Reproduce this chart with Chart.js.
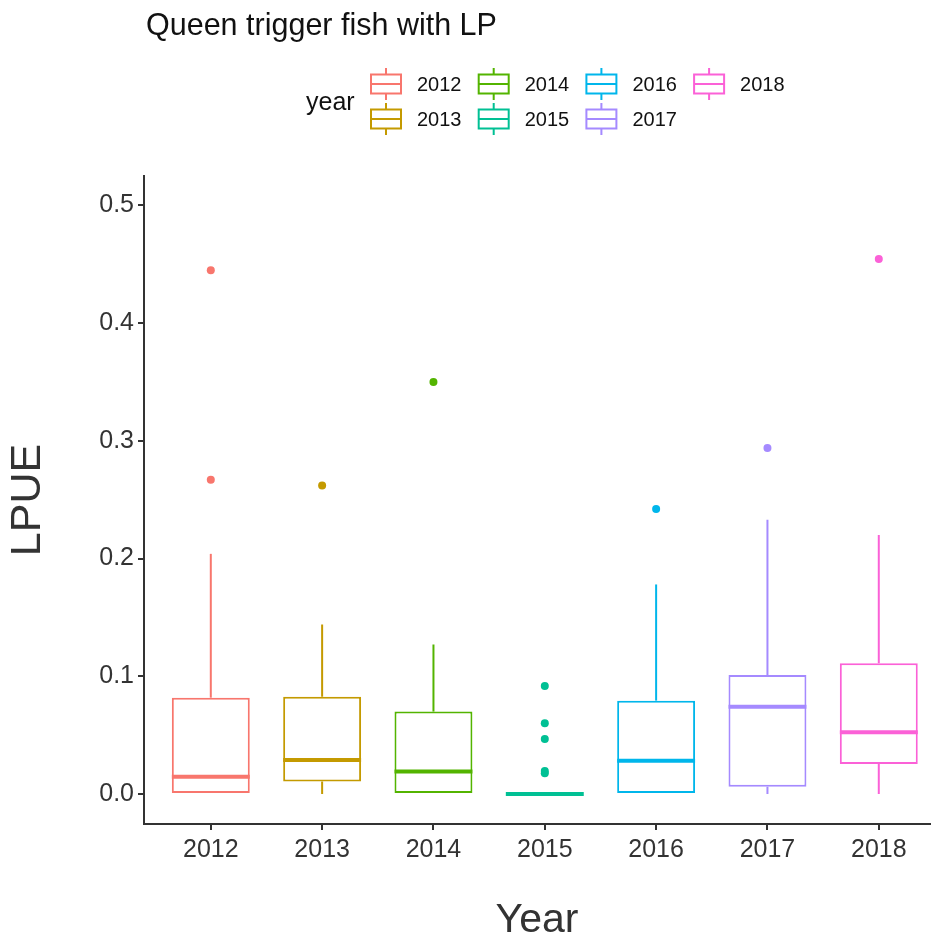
<!DOCTYPE html>
<html>
<head>
    <title>Queen trigger fish with LP</title>
    <style>
        body {
            margin: 0;
            padding: 0;
            background-color: #fff;
            overflow: hidden;
        }
    </style>
</head>
<body>
<canvas id="boxChart" width="934" height="941"></canvas>

<script src="https://cdn.jsdelivr.net/npm/chart.js@4.4.1/dist/chart.umd.min.js"></script>
<script>
    // valores
    const years = ['2012', '2013', '2014', '2015', '2016', '2017', '2018'];
    const colors = ['#F8766D', '#C49A00', '#53B400', '#00C094', '#00B6EB', '#A58AFF', '#FB61D7'];
    const whiskerLow = [0, 0, 0, 0, 0, 0, 0];
    const q1 = [0, 0.0105, 0, 0, 0, 0.0062, 0.0255];
    const medians = [0.0147, 0.0289, 0.019, 0, 0.0283, 0.0742, 0.0524];
    const q3 = [0.0818, 0.0827, 0.070, 0, 0.0793, 0.101, 0.111];
    const whiskerHigh = [0.204, 0.144, 0.127, 0, 0.178, 0.233, 0.220];
    const outliers = [
        [0.445, 0.267],
        [0.262],
        [0.350],
        [0.0918, 0.060, 0.0467, 0.0195, 0.0176],
        [0.242],
        [0.294],
        [0.4545]
    ];
    const yTicks = [0, 0.1, 0.2, 0.3, 0.4, 0.5];

    const FONT = "'Liberation Sans', Arial, sans-serif";
    Chart.defaults.font.family = FONT;

    const boxData = years.map((y, i) => ({x: i, y: [q1[i], q3[i]]}));
    const outlierData = [];
    outliers.forEach((vals, i) => {
        vals.forEach(v => outlierData.push({x: i, y: v}));
    });

    // bigotes y medianas
    const boxLines = {
        id: 'boxLines',
        beforeDatasetsDraw(chart) {
            const ctx = chart.ctx;
            const xs = chart.scales.x;
            const ys = chart.scales.y;
            ctx.save();
            ctx.lineWidth = 2;
            years.forEach((y, i) => {
                const px = xs.getPixelForValue(i);
                ctx.strokeStyle = colors[i];
                ctx.beginPath();
                ctx.moveTo(px, ys.getPixelForValue(q3[i]));
                ctx.lineTo(px, ys.getPixelForValue(whiskerHigh[i]));
                ctx.moveTo(px, ys.getPixelForValue(q1[i]));
                ctx.lineTo(px, ys.getPixelForValue(whiskerLow[i]));
                ctx.stroke();
            });
            ctx.restore();
        },
        afterDatasetsDraw(chart) {
            const ctx = chart.ctx;
            const xs = chart.scales.x;
            const ys = chart.scales.y;
            const bars = chart.getDatasetMeta(0).data;
            ctx.save();
            ctx.lineWidth = 4;
            years.forEach((y, i) => {
                const px = xs.getPixelForValue(i);
                const half = bars[i].width / 2;
                const py = ys.getPixelForValue(medians[i]);
                ctx.strokeStyle = colors[i];
                ctx.beginPath();
                ctx.moveTo(px - half, py);
                ctx.lineTo(px + half, py);
                ctx.stroke();
            });
            ctx.restore();
        }
    };

    // titulo y leyenda estilo ggplot
    const titleAndLegend = {
        id: 'titleAndLegend',
        afterDraw(chart) {
            const ctx = chart.ctx;
            ctx.save();
            ctx.fillStyle = '#111';
            ctx.font = '30.5px ' + FONT;
            ctx.textBaseline = 'alphabetic';
            ctx.fillText('Queen trigger fish with LP', 146, 35);

            ctx.fillStyle = '#111';
            ctx.font = '25px ' + FONT;
            ctx.fillText('year', 306, 110);

            ctx.font = '20px ' + FONT;
            ctx.textBaseline = 'middle';
            years.forEach((y, i) => {
                const col = Math.floor(i / 2);
                const row = i % 2;
                const left = 371 + col * 107.7;
                const cy = 84 + row * 35;
                const cx = left + 15;
                ctx.strokeStyle = colors[i];
                ctx.lineWidth = 2;
                ctx.beginPath();
                ctx.moveTo(cx, cy - 16);
                ctx.lineTo(cx, cy - 9.5);
                ctx.moveTo(cx, cy + 9.5);
                ctx.lineTo(cx, cy + 16);
                ctx.stroke();
                ctx.strokeRect(left, cy - 9.5, 30, 19);
                ctx.beginPath();
                ctx.moveTo(left, cy);
                ctx.lineTo(left + 30, cy);
                ctx.stroke();
                ctx.fillStyle = '#111';
                ctx.fillText(y, left + 46, cy + 1);
            });
            ctx.restore();
        }
    };

    new Chart(document.getElementById('boxChart'), {
        type: 'bar',
        data: {
            datasets: [{
                label: 'box',
                data: boxData,
                backgroundColor: '#fff',
                borderColor: colors,
                borderWidth: 2,
                borderSkipped: false,
                barPercentage: 0.7,
                categoryPercentage: 1.0
            }, {
                type: 'scatter',
                label: 'outliers',
                data: outlierData,
                pointRadius: 4,
                pointBorderWidth: 0,
                pointBackgroundColor: outlierData.map(p => colors[p.x]),
                pointBorderColor: outlierData.map(p => colors[p.x])
            }]
        },
        options: {
            responsive: false,
            animation: false,
            layout: {
                padding: {top: 176, right: 0, left: 0, bottom: 0}
            },
            plugins: {
                legend: {display: false},
                tooltip: {enabled: false}
            },
            scales: {
                x: {
                    type: 'linear',
                    offset: false,
                    min: -0.6,
                    max: 6.46,
                    afterBuildTicks: (scale) => {
                        scale.ticks = years.map((y, i) => ({value: i}));
                    },
                    afterFit: (scale) => {
                        scale.height = 117;
                    },
                    ticks: {
                        callback: (v) => years[v],
                        color: '#333',
                        padding: 5,
                        font: {size: 25}
                    },
                    grid: {
                        offset: false,
                        drawOnChartArea: false,
                        drawTicks: true,
                        tickLength: 6,
                        color: '#333',
                        lineWidth: 2
                    },
                    border: {display: true, color: '#333', width: 2},
                    title: {
                        display: true,
                        text: 'Year',
                        color: '#333',
                        font: {size: 41, lineHeight: 1},
                        padding: {top: 0, bottom: 0}
                    }
                },
                y: {
                    min: -0.0255,
                    max: 0.525,
                    afterBuildTicks: (scale) => {
                        scale.ticks = yTicks.map(v => ({value: v}));
                    },
                    afterFit: (scale) => {
                        scale.width = 144;
                    },
                    ticks: {
                        callback: (v) => v.toFixed(1),
                        color: '#333',
                        padding: 4,
                        font: {size: 25}
                    },
                    grid: {
                        drawOnChartArea: false,
                        drawTicks: true,
                        tickLength: 6,
                        color: '#333',
                        lineWidth: 2
                    },
                    border: {display: true, color: '#333', width: 2},
                    title: {
                        display: true,
                        text: 'LPUE',
                        color: '#333',
                        font: {size: 43, lineHeight: 1},
                        padding: {top: 7, bottom: 0}
                    }
                }
            }
        },
        plugins: [boxLines, titleAndLegend]
    });
</script>
</body>
</html>
